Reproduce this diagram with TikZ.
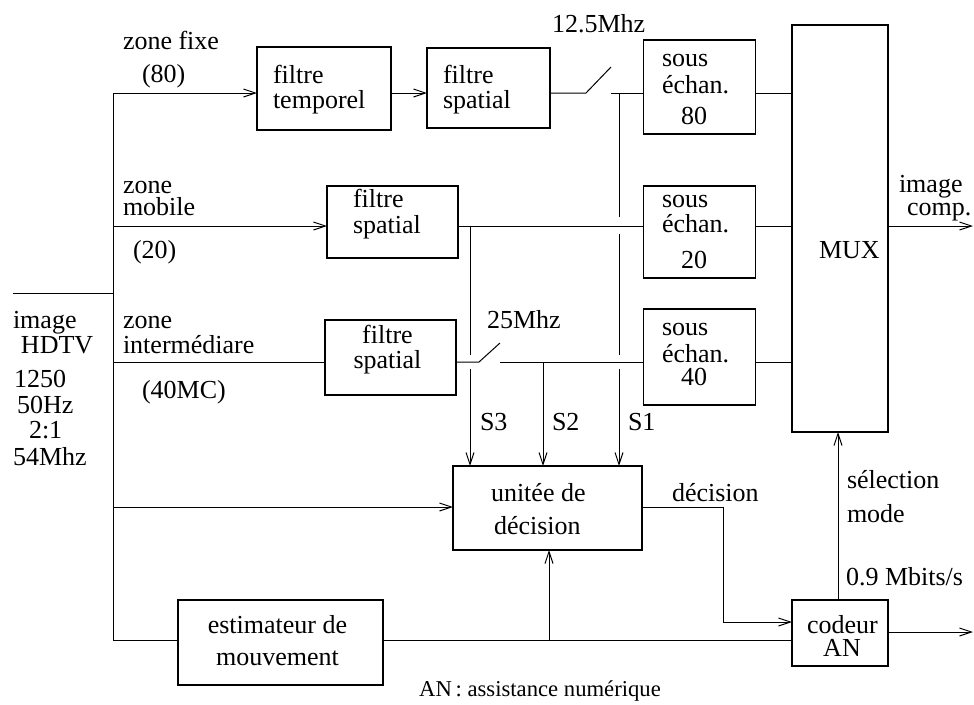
\documentclass[tikz,border=0pt]{standalone}
\usepackage{fontspec}
\setmainfont{Liberation Serif}
\usetikzlibrary{arrows.meta}
\begin{document}
\begin{tikzpicture}[x=0.75pt,y=-0.75pt,
  ln/.style={line width=0.75pt},
  arr/.style={ln,-{Straight Barb[length=9pt,width=6pt]}},
  box/.style={draw,line width=1.3pt,inner sep=0pt,outer sep=0pt},
  sz/.style 2 args={minimum width={#1*0.75pt},minimum height={#2*0.75pt}},
  lbl/.style={anchor=base west,inner sep=0pt,outer sep=0pt,font=\fontsize{19.5}{22}\selectfont},
  clbl/.style={anchor=base,inner sep=0pt,outer sep=0pt,font=\fontsize{19.5}{22}\selectfont},
  note/.style={anchor=base,inner sep=0pt,outer sep=0pt,font=\fontsize{17}{20}\selectfont}]
\useasboundingbox (0,0) rectangle (974,704);

% boxes
\node[box,sz={134}{83}]  (ft)   at (324,88.5)  {};
\node[box,sz={123}{80}]  (fs1)  at (488.5,88)  {};
\node[box,sz={112}{94}]  (se80) at (699.5,87)  {};
\node[box,sz={96}{407}]  (mux)  at (840,228.5) {};
\node[box,sz={131}{72}]  (fs2)  at (392.5,222) {};
\node[box,sz={112}{92}]  (se20) at (699.5,232) {};
\node[box,sz={131}{75}]  (fs3)  at (390.5,357.5) {};
\node[box,sz={112}{96}]  (se40) at (699.5,357) {};
\node[box,sz={189}{84}]  (dec)  at (547.5,508) {};
\node[box,sz={205}{85}]  (est)  at (280.5,642.5) {};
\node[box,sz={96}{66}]   (cod)  at (840,633) {};

% junction coordinates
\coordinate (in0) at (13,293);
\coordinate (j0) at (113,293);
\coordinate (jtop) at (113,93);
\coordinate (jmob) at (113,226);
\coordinate (jint) at (113,362);
\coordinate (jdec) at (113,507);
\coordinate (jbot) at (113,640);
\coordinate (sw1a) at (586,93);
\coordinate (sw1b) at (611,67);
\coordinate (sw1c) at (611,93);
\coordinate (sw2a) at (479,362);
\coordinate (sw2b) at (500,343);
\coordinate (sw2c) at (500,362);
\coordinate (s1a) at (619,93);
\coordinate (s1b) at (619,217);
\coordinate (s1c) at (619,234);
\coordinate (s1d) at (619,355);
\coordinate (s1e) at (619,369);
\coordinate (s3a) at (470,226);
\coordinate (s3b) at (470,355);
\coordinate (s3c) at (470,369);
\coordinate (s2a) at (543,362);
\coordinate (dk1) at (723,507);
\coordinate (dk2) at (723,622);
\coordinate (ek) at (549,640);
\coordinate (ck) at (838,600);
\coordinate (out1) at (973,226);
\coordinate (out2) at (973,632);

% connectors
\draw[ln] (in0) -- (j0);
\draw[ln] (jtop) -- (jbot);
\draw[arr] (jtop) -- (ft.west |- jtop);
\draw[arr] (ft.east |- jtop) -- (fs1.west |- jtop);
\draw[ln] (fs1.east |- jtop) -- (sw1a) -- (sw1b);
\draw[ln] (sw1c) -- (se80.west |- jtop);
\draw[ln] (se80.east |- jtop) -- (mux.west |- jtop);
\draw[ln] (s1a) -- (s1b);
\draw[ln] (s1c) -- (s1d);
\draw[arr] (s1e) -- (dec.north -| s1e);

\draw[arr] (jmob) -- (fs2.west |- jmob);
\draw[ln] (fs2.east |- jmob) -- (se20.west |- jmob);
\draw[ln] (se20.east |- jmob) -- (mux.west |- jmob);
\draw[arr] (mux.east |- jmob) -- (out1);
\draw[ln] (s3a) -- (s3b);
\draw[arr] (s3c) -- (dec.north -| s3c);

\draw[ln] (jint) -- (fs3.west |- jint);
\draw[ln] (fs3.east |- jint) -- (sw2a) -- (sw2b);
\draw[ln] (sw2c) -- (se40.west |- jint);
\draw[ln] (se40.east |- jint) -- (mux.west |- jint);
\draw[arr] (s2a) -- (dec.north -| s2a);

\draw[arr] (jdec) -- (dec.west |- jdec);
\draw[arr] (dec.east |- jdec) -- (dk1) -- (dk2) -- (cod.west |- dk2);
\draw[ln] (jbot) -- (est.west |- jbot);
\draw[ln] (est.east |- jbot) -- (cod.west |- jbot);
\draw[arr] (ek) -- (dec.south -| ek);
\draw[arr] (cod.east |- out2) -- (out2);
\draw[arr] (ck) -- (mux.south -| ck);

% labels
\node[lbl] (t1) at (123,49) {zone fixe};
\node[lbl] (t2) at (142,82) {(80)};
\node[lbl] (t3) at (123,193) {zone};
\node[lbl] (t4) at (123,215) {mobile};
\node[lbl] (t5) at (133,258) {(20)};
\node[lbl] (t6) at (13,328) {image};
\node[lbl] (t7) at (21,353) {HDTV};
\node[lbl] (t8) at (14,387) {1250};
\node[lbl] (t9) at (17,413) {50Hz};
\node[lbl] (t10) at (29,438) {2:1};
\node[lbl] (t11) at (13,465) {54Mhz};
\node[lbl] (t12) at (123,328) {zone};
\node[lbl] (t13) at (123,353) {intermédiare};
\node[lbl] (t14) at (142,398) {(40MC)};
\node[lbl] (t15) at (273,83) {filtre};
\node[lbl] (t16) at (273,108) {temporel};
\node[lbl] (t17) at (443,83) {filtre};
\node[lbl] (t18) at (443,108) {spatial};
\node[lbl] (t19) at (552,32) {12.5Mhz};
\node[lbl] (t20) at (662,66) {sous};
\node[lbl] (t21) at (662,93) {échan.};
\node[lbl] (t22) at (681,124) {80};
\node[lbl] (t23) at (353,207) {filtre};
\node[lbl] (t24) at (353,233) {spatial};
\node[lbl] (t25) at (662,207) {sous};
\node[lbl] (t26) at (662,232) {échan.};
\node[lbl] (t27) at (681,268) {20};
\node[clbl] (t28) at (387.5,343) {filtre};
\node[clbl] (t29) at (387.5,368) {spatial};
\node[lbl] (t30) at (487,328) {25Mhz};
\node[lbl] (t31) at (662,335) {sous};
\node[lbl] (t32) at (662,362) {échan.};
\node[lbl] (t33) at (681,385) {40};
\node[lbl] (t34) at (480,430) {S3};
\node[lbl] (t35) at (552,430) {S2};
\node[lbl] (t36) at (628,430) {S1};
\node[lbl] (t37) at (491,501) {unitée de};
\node[lbl] (t38) at (494,534) {décision};
\node[lbl] (t39) at (672,501) {décision};
\node[lbl] (t40) at (847,488) {sélection};
\node[lbl] (t41) at (847,522) {mode};
\node[lbl] (t42) at (846,585) {0.9 Mbits/s};
\node[lbl] (t43) at (807,633) {codeur};
\node[clbl] (t44) at (842,656) {AN};
\node[clbl] (t45) at (277.5,633) {estimateur de};
\node[clbl] (t46) at (277.5,665) {mouvement};
\node[note] (t47) at (540,696) {AN\,: assistance numérique};
\node[lbl] (t48) at (819,258) {MUX};
\node[lbl] (t49) at (899,192) {image};
\node[lbl] (t50) at (907,215) {comp.};
\end{tikzpicture}
\end{document}
